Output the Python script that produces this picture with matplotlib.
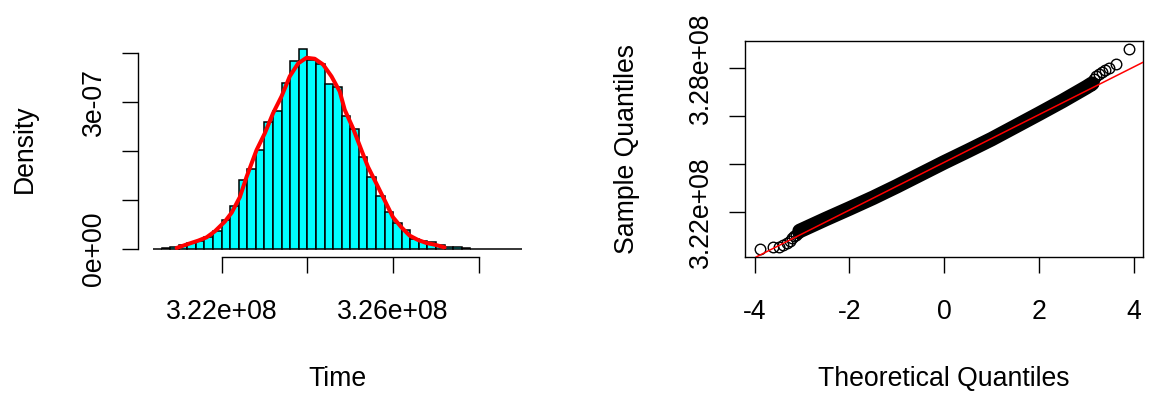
import matplotlib
matplotlib.use('Agg')
import matplotlib.pyplot as plt
import numpy as np

plt.rcParams['font.family'] = ['Liberation Sans', 'DejaVu Sans']
FS = 19.2

# ---------------- Histogram data (x in millions, density in 1e-7) ----------------
bin_left_M = [320.4, 320.6, 320.8, 321.0, 321.2, 321.4, 321.6, 321.8, 322.0, 322.2,
              322.4, 322.6, 322.8, 323.0, 323.2, 323.4, 323.6, 323.8, 324.0, 324.2,
              324.4, 324.6, 324.8, 325.0, 325.2, 325.4, 325.6, 325.8, 326.0, 326.2,
              326.4, 326.6, 326.8, 327.0, 327.2, 327.4, 327.6, 327.8, 328.0, 328.2,
              328.4, 328.6, 328.8]
bin_width_M = 0.2
hist_density_e7 = [0.005, 0.02, 0.048, 0.089, 0.123, 0.171, 0.239, 0.362, 0.581, 0.875,
                   1.402, 1.621, 2.017, 2.585, 2.803, 3.385, 3.829, 4.082, 3.850, 3.761,
                   3.364, 3.296, 2.715, 2.441, 1.867, 1.470, 1.080, 0.752, 0.533, 0.397,
                   0.205, 0.171, 0.150, 0.089, 0.048, 0.041, 0.01, 0.005, 0.005, 0.0,
                   0.0, 0.005, 0.0]

# kernel density curve
kde_x_M = [320.952, 321.222, 321.455, 321.651, 321.844, 322.077, 322.233, 322.426, 322.582,
           322.815, 323.008, 323.201, 323.397, 323.590, 323.783, 323.979, 324.172, 324.366,
           324.561, 324.754, 324.871, 325.064, 325.260, 325.413, 325.609, 325.802, 325.995,
           326.191, 326.384, 326.577, 326.773, 326.966, 327.199]
kde_y_e7 = [0.021, 0.103, 0.170, 0.238, 0.361, 0.560, 0.738, 1.058, 1.469, 2.016, 2.359,
            2.769, 3.110, 3.520, 3.781, 3.897, 3.877, 3.760, 3.520, 3.212, 2.837, 2.462,
            2.016, 1.674, 1.333, 0.991, 0.648, 0.443, 0.273, 0.185, 0.123, 0.088, 0.033]

hist_xticks_M = [322, 324, 326, 328]
hist_xticklabels = ['3.22e+08', '', '3.26e+08', '']
hist_yticks_e7 = [0, 1, 2, 3, 4]
hist_yticklabels = ['0e+00', '', '', '3e-07', '']

# ---------------- Q-Q data (sample in millions) ----------------
band_theo = [-3.05, -2.5, -2.0, -1.5, -1.0, -0.5, 0.0, 0.5, 1.0, 1.5, 2.0, 2.5, 3.0, 3.12]
band_sample_M = [321.20, 321.70, 322.14, 322.59, 323.07, 323.57, 324.07, 324.55,
                 325.04, 325.57, 326.10, 326.64, 327.21, 327.36]
tail_theo = [-3.89, -3.62, -3.48, -3.39, -3.32, -3.26, -3.21, -3.17, -3.13, -3.09,
             3.09, 3.13, 3.17, 3.21, 3.26, 3.32, 3.39, 3.48, 3.62, 3.89]
tail_sample_M = [320.45, 320.52, 320.55, 320.62, 320.72, 320.80, 320.90, 320.98, 321.05, 321.13,
                 327.30, 327.40, 327.55, 327.68, 327.76, 327.85, 327.93, 328.00, 328.17, 328.82]
qq_intercept_M = 324.07
qq_slope_M = 0.997

qq_xticks = [-4, -2, 0, 2, 4]
qq_xticklabels = ['-4', '-2', '0', '2', '4']
qq_yticks_M = [322, 324, 326, 328]
qq_yticklabels = ['3.22e+08', '', '', '3.28e+08']

# ---------------- Figure ----------------
W, H = 1153, 394
fig = plt.figure(figsize=(W / 100, H / 100), dpi=100)

def ax_rect(left, top, width, height):
    return [left / W, (H - top - height) / H, width / W, height / H]

ax1 = fig.add_axes(ax_rect(138.2, 40.7, 398.4, 216.3))
ax2 = fig.add_axes(ax_rect(745.0, 40.7, 398.3, 216.3))

TL = 11.5
for ax in (ax1, ax2):
    ax.tick_params(axis='both', direction='out', length=TL, width=1.0, labelsize=FS,
                   colors='black')

# Histogram
xl = np.array(bin_left_M) * 1e6
dens = np.array(hist_density_e7) * 1e-7
ax1.bar(xl, dens, width=bin_width_M * 1e6, align='edge', color='#00FFFF',
        edgecolor='black', linewidth=1.1)
ax1.plot(np.array(kde_x_M) * 1e6, np.array(kde_y_e7) * 1e-7, color='red', lw=2.9,
         solid_capstyle='round', solid_joinstyle='round')
lo = xl[0]
hi = xl[-1] + bin_width_M * 1e6
pad = 0.04 * (hi - lo)
ax1.set_xlim(lo - pad, hi + pad)
ymax = dens.max()
ax1.set_ylim(-0.04 * ymax, 1.04 * ymax)
for s in ('top', 'right'):
    ax1.spines[s].set_visible(False)
ax1.spines['bottom'].set_bounds(hist_xticks_M[0] * 1e6, hist_xticks_M[-1] * 1e6)
ax1.spines['left'].set_bounds(hist_yticks_e7[0] * 1e-7, hist_yticks_e7[-1] * 1e-7)
ax1.spines['bottom'].set_linewidth(1.0)
ax1.spines['left'].set_linewidth(1.0)
ax1.set_xticks(np.array(hist_xticks_M) * 1e6)
ax1.set_xticklabels(hist_xticklabels)
ax1.set_yticks(np.array(hist_yticks_e7) * 1e-7)
ax1.set_yticklabels(hist_yticklabels, rotation=90, va='center')
ax1.tick_params(axis='x', pad=19)
ax1.tick_params(axis='y', pad=11)
ax1.set_xlabel('Time', fontsize=FS, va='baseline')
ax1.xaxis.set_label_coords(0.5, (257.0 - 386.0) / 216.3)
ax1.set_ylabel('Density', fontsize=FS, va='baseline')
ax1.yaxis.set_label_coords((32.0 - 138.2) / 398.4, 0.5)

# Q-Q plot
ax2.plot(band_theo, np.array(band_sample_M) * 1e6, color='black', lw=10.5,
         solid_capstyle='round', solid_joinstyle='round', zorder=2)
ax2.plot(tail_theo, np.array(tail_sample_M) * 1e6, linestyle='none', marker='o',
         markersize=7.6, markerfacecolor='none', markeredgecolor='black',
         markeredgewidth=1.0, zorder=3)
ax2.axline((0, qq_intercept_M * 1e6), slope=qq_slope_M * 1e6, color='red', lw=1.1, zorder=4)
allx = band_theo + tail_theo
ally = np.array(band_sample_M + tail_sample_M) * 1e6
xr = max(allx) - min(allx)
yr = ally.max() - ally.min()
ax2.set_xlim(min(allx) - 0.04 * xr, max(allx) + 0.04 * xr)
ax2.set_ylim(ally.min() - 0.04 * yr, ally.max() + 0.04 * yr)
for s in ax2.spines.values():
    s.set_linewidth(1.0)
ax2.set_xticks(qq_xticks)
ax2.set_xticklabels(qq_xticklabels)
ax2.set_yticks(np.array(qq_yticks_M) * 1e6)
ax2.set_yticklabels(qq_yticklabels, rotation=90, va='center')
ax2.tick_params(axis='x', pad=19)
ax2.tick_params(axis='y', pad=11)
ax2.set_xlabel('Theoretical Quantiles', fontsize=FS, va='baseline')
ax2.xaxis.set_label_coords(0.5, (257.0 - 386.0) / 216.3)
ax2.set_ylabel('Sample Quantiles', fontsize=FS, va='baseline')
ax2.yaxis.set_label_coords((634.0 - 745.0) / 398.3, 0.5)

fig.savefig('out.png', dpi=100)
